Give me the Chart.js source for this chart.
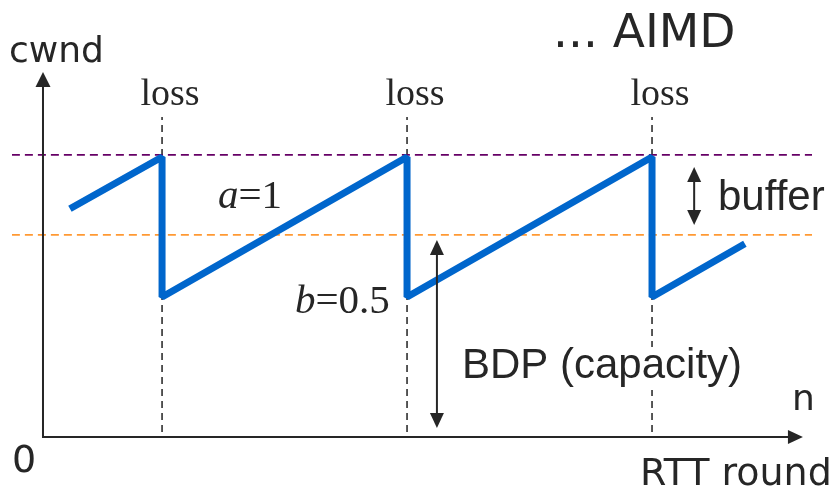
<!DOCTYPE html>
<html>
<head>
<meta charset="utf-8">
<script src="https://cdn.jsdelivr.net/npm/chart.js@4.4.0/dist/chart.umd.min.js"></script>
<style>
  html, body { margin: 0; padding: 0; background: #fff; }
  canvas { display: block; }
</style>
</head>
<body>
<canvas id="myChart" width="838" height="491"></canvas>
<script>
// cwnd sawtooth (x in RTT rounds, y in packets)
const cwndX = [1.1, 4.86, 4.86, 14.86, 14.86, 24.86, 24.86, 28.65];
const cwndY = [16.3, 20, 10, 20, 10, 20, 10, 13.8];
const lossRounds = [4.86, 14.86, 24.86];
const lossSpan = [0.36, 22.86];
const bufferLevel = 20.15;
const capacityLevel = 14.43;
const refSpan = [-1.27, 31.39];
const lossLabel = 'loss';
const axisLabels = { y: 'cwnd', x: 'RTT round', n: 'n', zero: '0', title: '... AIMD' };

const xMin = -1.265, xMax = 31.39, yMin = 0, yMax = 26.07;
const ink = '#262626';

function pts(xs, ys) { return xs.map((x, i) => ({ x: x, y: ys[i] })); }

const datasets = [{
  data: pts(cwndX, cwndY),
  borderColor: '#0066cc',
  borderWidth: 7,
  borderJoinStyle: 'bevel',
  pointRadius: 0,
  tension: 0,
  order: 0
}, {
  data: pts(refSpan, [bufferLevel, bufferLevel]),
  borderColor: '#660066',
  borderWidth: 1.8,
  borderDash: [8, 5],
  pointRadius: 0,
  order: 2
}, {
  data: pts(refSpan, [capacityLevel, capacityLevel]),
  borderColor: '#ff9933',
  borderWidth: 1.8,
  borderDash: [8, 5],
  pointRadius: 0,
  order: 2
}];
lossRounds.forEach(r => {
  datasets.push({
    data: pts([r, r], lossSpan),
    borderColor: '#222',
    borderWidth: 1.5,
    borderDash: [7, 5],
    pointRadius: 0,
    order: 3
  });
});

function arrowHead(ctx, x, y, dir, w, h) {
  ctx.beginPath();
  if (dir === 'up') { ctx.moveTo(x, y); ctx.lineTo(x - w / 2, y + h); ctx.lineTo(x + w / 2, y + h); }
  if (dir === 'down') { ctx.moveTo(x, y); ctx.lineTo(x - w / 2, y - h); ctx.lineTo(x + w / 2, y - h); }
  if (dir === 'right') { ctx.moveTo(x, y); ctx.lineTo(x - h, y - w / 2); ctx.lineTo(x - h, y + w / 2); }
  ctx.closePath();
  ctx.fill();
}

const decor = {
  id: 'decor',
  afterDatasetsDraw(chart) {
    const ctx = chart.ctx;
    const xs = chart.scales.x, ys = chart.scales.y;
    const X = v => xs.getPixelForValue(v);
    const Y = v => ys.getPixelForValue(v);
    ctx.save();
    ctx.fillStyle = ink;
    ctx.strokeStyle = ink;

    // axes
    const x0 = X(0), y0 = Y(0), yTop = Y(yMax), xTip = X(31.02);
    ctx.lineWidth = 2;
    ctx.beginPath();
    ctx.moveTo(x0, yTop + 10); ctx.lineTo(x0, y0);
    ctx.lineTo(xTip - 10, y0);
    ctx.stroke();
    arrowHead(ctx, x0, yTop, 'up', 15, 15);
    arrowHead(ctx, xTip, y0, 'right', 14, 15);

    // buffer arrow
    const bx = X(26.58);
    ctx.lineWidth = 2;
    ctx.beginPath(); ctx.moveTo(bx, Y(19.29) + 10); ctx.lineTo(bx, Y(15.14) - 10); ctx.stroke();
    arrowHead(ctx, bx, Y(19.29), 'up', 14, 15);
    arrowHead(ctx, bx, Y(15.14), 'down', 14, 15);

    // BDP arrow
    const cx = X(16.08);
    ctx.beginPath(); ctx.moveTo(cx, Y(14.07) + 10); ctx.lineTo(cx, Y(0.64) - 10); ctx.stroke();
    arrowHead(ctx, cx, Y(14.07), 'up', 14, 15);
    arrowHead(ctx, cx, Y(0.64), 'down', 14, 15);

    // loss labels
    ctx.font = '38px "Liberation Serif"';
    ctx.textAlign = 'center';
    ctx.textBaseline = 'alphabetic';
    lossRounds.forEach(r => ctx.fillText(lossLabel, X(r) + 8, 105));

    // a=1
    ctx.textAlign = 'left';
    let px = 218;
    ctx.font = 'italic 41px "Liberation Serif"';
    ctx.fillText('a', px, 208);
    px += ctx.measureText('a').width;
    ctx.font = '41px "Liberation Serif"';
    ctx.fillText('=1', px, 208);

    // b=0.5
    px = 295;
    ctx.font = 'italic 41px "Liberation Serif"';
    ctx.fillText('b', px, 313);
    px += ctx.measureText('b').width;
    ctx.font = '41px "Liberation Serif"';
    ctx.fillText('=0.5', px, 313);

    // buffer
    ctx.font = '42px "Liberation Sans"';
    ctx.fillText('buffer', 718, 210);

    // BDP (capacity) with white box behind
    ctx.fillStyle = '#fff';
    ctx.fillRect(456, 347, 292, 43);
    ctx.fillStyle = ink;
    ctx.font = '42px "Liberation Sans"';
    ctx.fillText('BDP (capacity)', 462, 378);

    // axis texts
    ctx.font = '36px "DejaVu Sans"';
    ctx.fillText(axisLabels.y, 9, 62);
    ctx.fillText(axisLabels.n, 792, 410);
    ctx.font = '38px "DejaVu Sans"';
    ctx.fillText(axisLabels.zero, 12, 472);
    ctx.fillText(axisLabels.x, 640, 485);
    ctx.font = '47px "DejaVu Sans"';
    ctx.fillText(axisLabels.title, 553, 47);
    ctx.restore();
  }
};

new Chart(document.getElementById('myChart').getContext('2d'), {
  type: 'line',
  data: { datasets: datasets },
  options: {
    responsive: false,
    animation: false,
    layout: { padding: { left: 12, right: 26, top: 72, bottom: 54 } },
    plugins: { legend: { display: false }, tooltip: { enabled: false } },
    scales: {
      x: { type: 'linear', min: xMin, max: xMax, display: false },
      y: { type: 'linear', min: yMin, max: yMax, display: false }
    }
  },
  plugins: [decor]
});
</script>
</body>
</html>
